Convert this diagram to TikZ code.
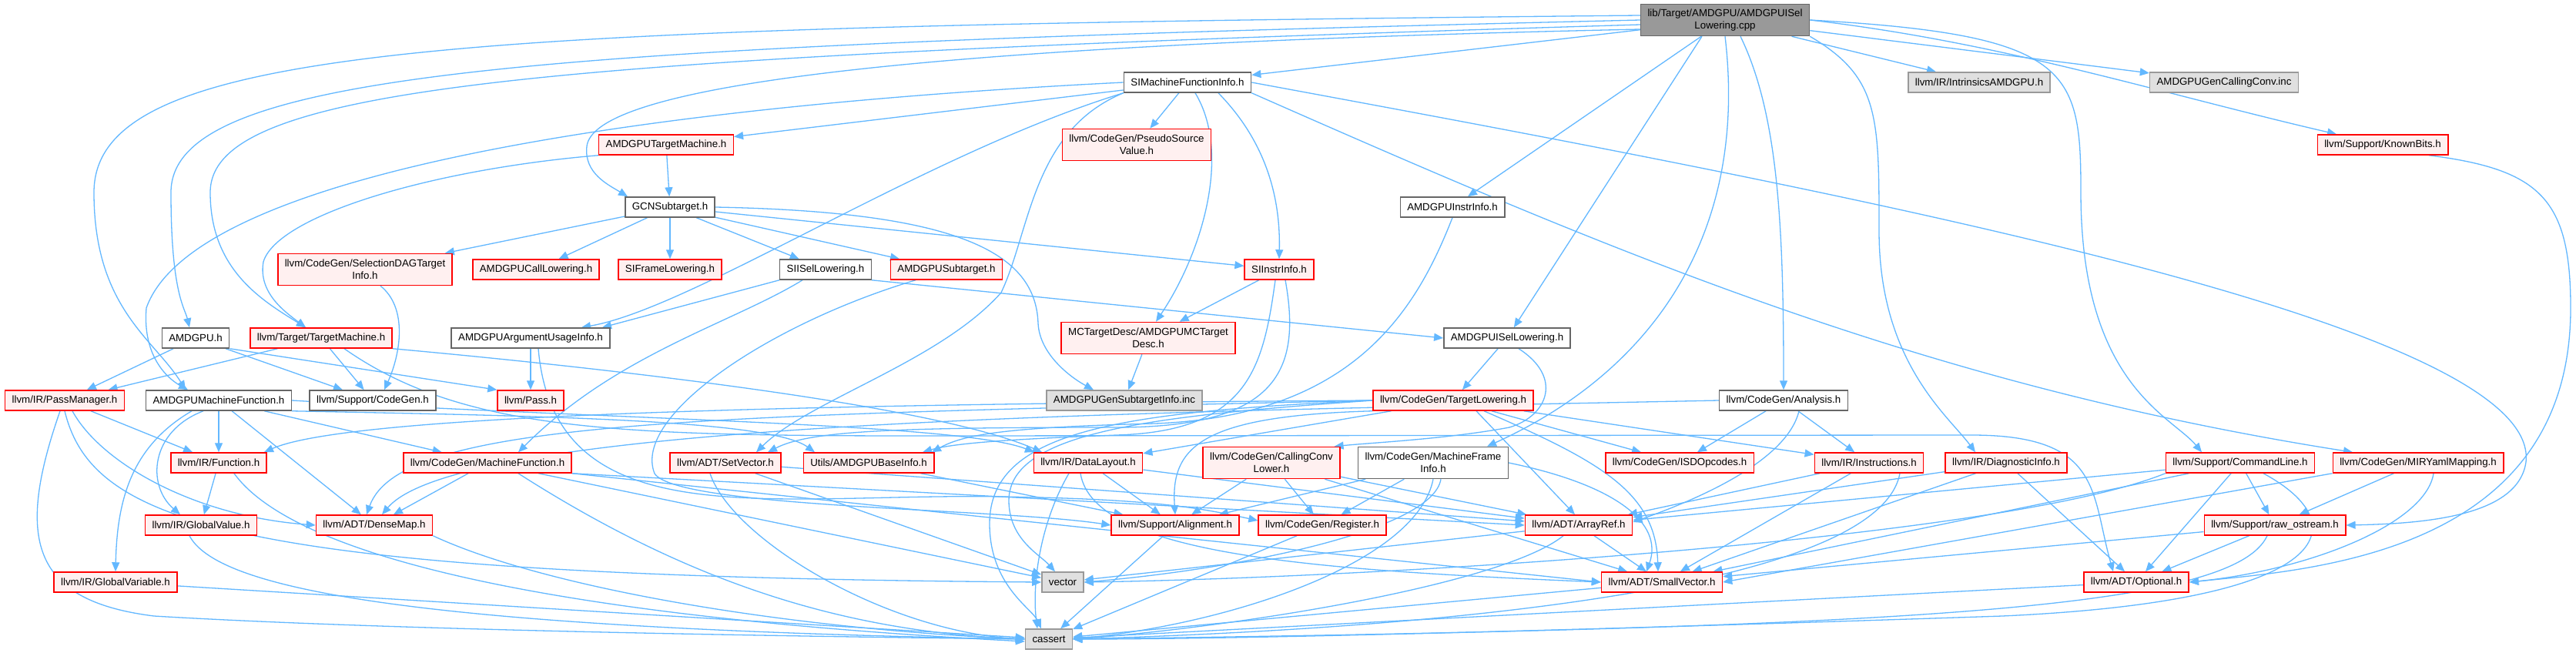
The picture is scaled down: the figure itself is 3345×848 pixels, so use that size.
\documentclass[tikz,border=0pt]{standalone}
\usepackage{fontspec}
\setmainfont{Liberation Sans}
\usetikzlibrary{arrows.meta}
\definecolor{edgeblue}{HTML}{63B8FF}
\definecolor{truncred}{HTML}{FF0000}
\definecolor{truncfill}{HTML}{FFF0F0}
\definecolor{extfill}{HTML}{E0E0E0}
\definecolor{extline}{HTML}{999999}
\definecolor{rootfill}{HTML}{999999}
\definecolor{nodeline}{HTML}{666666}
\pgfdeclarelayer{edges}
\pgfsetlayers{edges,main}

\begin{document}
\begin{tikzpicture}[x=1pt, y=-1pt,
  every node/.style={font=\fontsize{13.3}{16}\selectfont, inner xsep=9pt, inner ysep=2pt, minimum height=26pt, line width=1.5pt},
  incfile/.style={draw=nodeline, fill=white},
  trunc/.style={draw=truncred, fill=truncfill},
  sysfile/.style={draw=extline, fill=extfill},
  srcfile/.style={draw=nodeline, fill=rootfill},
  twoline/.style={align=center, minimum height=41pt},
  dep/.style={draw=edgeblue, line width=1.3pt, -{Triangle[length=12pt,width=10pt]}}]
  \useasboundingbox (0,0) rectangle (3345,848);

  \node[srcfile, twoline] (root) at (2240,26) {lib/Target/AMDGPU/AMDGPUISel\\Lowering.cpp};
  \node[incfile] (simfi) at (1542,107) {SIMachineFunctionInfo.h};
  \node[sysfile] (intr) at (2570,107) {llvm/IR/IntrinsicsAMDGPU.h};
  \node[sysfile] (gencc) at (2888,107) {AMDGPUGenCallingConv.inc};
  \node[trunc] (atm) at (865,188) {AMDGPUTargetMachine.h};
  \node[trunc, twoline] (psv) at (1476,188) {llvm/CodeGen/PseudoSource\\Value.h};
  \node[trunc] (kbits) at (3094,188) {llvm/Support/KnownBits.h};
  \node[incfile] (gcn) at (870,269) {GCNSubtarget.h};
  \node[incfile] (ainstr) at (1886,269) {AMDGPUInstrInfo.h};
  \node[trunc, twoline] (sdag) at (474,350) {llvm/CodeGen/SelectionDAGTarget\\Info.h};
  \node[trunc] (acall) at (696,350) {AMDGPUCallLowering.h};
  \node[trunc] (sifl) at (870,350) {SIFrameLowering.h};
  \node[incfile] (siisel) at (1072,350) {SIISelLowering.h};
  \node[trunc] (asub) at (1229,350) {AMDGPUSubtarget.h};
  \node[trunc] (siinstr) at (1661,350) {SIInstrInfo.h};
  \node[incfile] (amdgpu) at (254,439) {AMDGPU.h};
  \node[trunc] (tm) at (417,439) {llvm/Target/TargetMachine.h};
  \node[incfile] (argui) at (689,439) {AMDGPUArgumentUsageInfo.h};
  \node[trunc, twoline] (mctd) at (1491,439) {MCTargetDesc/AMDGPUMCTarget\\Desc.h};
  \node[incfile] (aisel) at (1957,439) {AMDGPUISelLowering.h};
  \node[trunc] (pm) at (84,520) {llvm/IR/PassManager.h};
  \node[incfile] (amf) at (284,520) {AMDGPUMachineFunction.h};
  \node[incfile] (cgen) at (484,520) {llvm/Support/CodeGen.h};
  \node[trunc] (pass) at (689,520) {llvm/Pass.h};
  \node[sysfile] (gensti) at (1460,520) {AMDGPUGenSubtargetInfo.inc};
  \node[trunc] (tl) at (1887,520) {llvm/CodeGen/TargetLowering.h};
  \node[incfile] (ana) at (2316,520) {llvm/CodeGen/Analysis.h};
  \node[trunc] (func) at (284,601) {llvm/IR/Function.h};
  \node[trunc] (mf) at (633,601) {llvm/CodeGen/MachineFunction.h};
  \node[trunc] (setv) at (942,601) {llvm/ADT/SetVector.h};
  \node[trunc] (abase) at (1128,601) {Utils/AMDGPUBaseInfo.h};
  \node[trunc] (dl) at (1413,601) {llvm/IR/DataLayout.h};
  \node[trunc, twoline] (ccl) at (1651,601) {llvm/CodeGen/CallingConv\\Lower.h};
  \node[incfile, twoline] (mfi) at (1861,601) {llvm/CodeGen/MachineFrame\\Info.h};
  \node[trunc] (isd) at (2181,601) {llvm/CodeGen/ISDOpcodes.h};
  \node[trunc] (inst) at (2427,601) {llvm/IR/Instructions.h};
  \node[trunc] (diag) at (2605,601) {llvm/IR/DiagnosticInfo.h};
  \node[trunc] (cl) at (2909,601) {llvm/Support/CommandLine.h};
  \node[trunc] (mir) at (3140,601) {llvm/CodeGen/MIRYamlMapping.h};
  \node[trunc] (gval) at (261,682) {llvm/IR/GlobalValue.h};
  \node[trunc] (dmap) at (486,682) {llvm/ADT/DenseMap.h};
  \node[trunc] (align) at (1526,682) {llvm/Support/Alignment.h};
  \node[trunc] (reg) at (1717,682) {llvm/CodeGen/Register.h};
  \node[trunc] (aref) at (2050,682) {llvm/ADT/ArrayRef.h};
  \node[trunc] (raw) at (2954,682) {llvm/Support/raw\_ostream.h};
  \node[trunc] (gvar) at (150,756) {llvm/IR/GlobalVariable.h};
  \node[sysfile] (vec) at (1380,756) {vector};
  \node[trunc] (svec) at (2158,756) {llvm/ADT/SmallVector.h};
  \node[trunc] (opt) at (2774,756) {llvm/ADT/Optional.h};
  \node[sysfile] (cas) at (1362,830) {cassert};

  \begin{pgfonlayer}{edges}
  \fill[white] (0,0) rectangle (3345,848);
  \draw[dep] (root) -- (simfi);
  \draw[dep] (root) -- (ainstr);
  \draw[dep] (root) -- (intr);
  \draw[dep] (root) -- (gencc);
  \draw[dep] (root.east) .. controls (2600,55) and (2800,120) .. ([xshift=-60pt]kbits.north);
  \draw[dep] (root.east) .. controls (2690,45) and (2702,90) .. (2702,250) .. controls (2702,500) and (2820,540) .. ([xshift=-50pt]cl.north);
  \draw[dep] (root.south east) .. controls (2440,100) and (2440,150) .. (2440,300) .. controls (2440,470) and (2530,540) .. ([xshift=-40pt]diag.north);
  \draw[dep] ([xshift=20pt]root.south) .. controls (2310,150) and (2316,300) .. (ana.north);
  \draw[dep] (root.south) .. controls (2270,300) and (2150,480) .. ([xshift=70pt]mfi.north);
  \draw[dep] ([xshift=-30pt]root.south) -- (aisel);
  \draw[dep] ([yshift=-12pt]root.west) .. controls (1100,60) and (770,120) .. (762,190) .. controls (758,225) and (790,240) .. ([xshift=-55pt]gcn.north);
  \draw[dep] ([yshift=-6pt]root.west) .. controls (700,75) and (273,110) .. (273,250) .. controls (273,350) and (340,390) .. ([xshift=-20pt]tm.north);
  \draw[dep] (root.west) .. controls (700,60) and (222,90) .. (222,250) .. controls (222,380) and (240,400) .. ([xshift=-8pt]amdgpu.north);
  \draw[dep] ([yshift=6pt]root.west) .. controls (600,35) and (122,55) .. (122,250) .. controls (122,400) and (200,440) .. ([xshift=-43pt]amf.north);

  \draw[dep] (simfi) -- (atm);
  \draw[dep] (simfi) -- (psv);
  \draw[dep] ([xshift=40pt]simfi.south) .. controls (1640,180) and (1663,250) .. (siinstr.north);
  \draw[dep] ([xshift=10pt]simfi.south) .. controls (1600,200) and (1560,330) .. ([xshift=10pt]mctd.north);
  \draw[dep] (simfi.south east) .. controls (2100,330) and (2500,500) .. ([xshift=-85pt]mir.north);
  \draw[dep] (simfi.east) .. controls (2400,250) and (3300,420) .. (3280,600) .. controls (3270,670) and (3150,680) .. (raw.east);
  \draw[dep] (simfi.south west) .. controls (1340,170) and (1338,300) .. (1300,380) .. controls (1220,470) and (1050,520) .. ([xshift=40pt]setv.north);
  \draw[dep] (simfi.south west) .. controls (1200,200) and (900,400) .. ([xshift=66pt]argui.north);
  \draw[dep] (simfi.west) .. controls (800,140) and (250,230) .. (190,400) .. controls (185,460) and (215,490) .. ([xshift=-40pt]amf.north);

  \draw[dep] (atm) -- (gcn);
  \draw[dep] (atm.south west) .. controls (560,220) and (360,280) .. (342,340) .. controls (335,380) and (370,405) .. ([xshift=-20pt]tm.north);

  \draw[dep] (gcn) -- (sdag);
  \draw[dep] (gcn) -- (acall);
  \draw[dep] (gcn) -- (sifl);
  \draw[dep] (gcn) -- (siisel);
  \draw[dep] (gcn) -- (asub);
  \draw[dep] (gcn) -- (siinstr);
  \draw[dep] (gcn.east) .. controls (1250,275) and (1345,330) .. (1348,420) .. controls (1350,460) and (1390,490) .. ([xshift=-40pt]gensti.north);
  \draw[dep] ([xshift=20pt]sdag.south) .. controls (530,400) and (520,460) .. ([xshift=15pt]cgen.north);

  \draw[dep] (siisel.south east) -- (aisel.west);
  \draw[dep] (siisel.south west) -- ([xshift=93pt]argui.north);
  \draw[dep] ([xshift=-30pt]siisel.south) .. controls (950,420) and (800,460) .. ([xshift=40pt]mf.north);
  \draw[dep] ([xshift=-40pt]asub.south) .. controls (1000,420) and (820,540) .. (850,615) .. controls (880,660) and (1300,660) .. (align.west);

  \draw[dep] (siinstr) -- (mctd);
  \draw[dep] ([xshift=-5pt]siinstr.south) .. controls (1640,480) and (1620,560) .. (1450,565) .. controls (1320,570) and (1240,575) .. ([xshift=70pt]abase.north);
  \draw[dep] ([xshift=8pt]siinstr.south) .. controls (1690,480) and (1660,555) .. (1450,555) .. controls (1150,555) and (1050,560) .. ([xshift=55pt]setv.north);
  \draw[dep] (ainstr.south) .. controls (1840,400) and (1760,540) .. (1500,550) .. controls (1300,555) and (1250,565) .. ([xshift=82pt]abase.north);
  \draw[dep] (mctd) -- (gensti);
  \draw[dep] ([xshift=60pt]kbits.south) .. controls (3300,220) and (3338,260) .. (3338,400) .. controls (3338,720) and (3000,740) .. (opt.east);

  \draw[dep] (amdgpu) -- (pm);
  \draw[dep] (amdgpu) -- (cgen);
  \draw[dep] (amdgpu.south east) -- (pass.north west);
  \draw[dep] (tm) -- (pm);
  \draw[dep] (tm) -- (cgen);
  \draw[dep] (tm.south east) .. controls (700,470) and (1200,520) .. ([xshift=-60pt]dl.north);
  \draw[dep] ([xshift=30pt]tm.south) .. controls (600,560) and (800,566) .. (1200,566) -- (2560,565) .. controls (2730,565) and (2715,640) .. ([xshift=-30pt]opt.north);
  \draw[dep] (argui) -- (pass);
  \draw[dep] ([xshift=10pt]argui.south) .. controls (720,700) and (1000,640) .. (1300,645) .. controls (1500,648) and (1560,660) .. ([yshift=6pt]reg.west);

  \draw[dep] (amf) -- (func);
  \draw[dep] (amf) -- (dmap);
  \draw[dep] (amf) -- (mf);
  \draw[dep] ([xshift=-20pt]amf.south) .. controls (195,560) and (190,630) .. ([xshift=-27pt]gval.north);
  \draw[dep] ([xshift=-35pt]amf.south) .. controls (170,580) and (152,650) .. (gvar.north);
  \draw[dep] (amf.south east) .. controls (700,540) and (1000,545) .. ([xshift=-70pt]abase.north);
  \draw[dep] (amf.east) .. controls (800,545) and (1250,550) .. ([xshift=-70pt]dl.north);

  \draw[dep] (aisel) -- (tl);
  \draw[dep] ([xshift=15pt]aisel.south) .. controls (2030,490) and (2010,540) .. (1960,555) .. controls (1880,570) and (1780,575) .. ([xshift=-8pt]ccl.north east);

  \draw[dep] (pm) -- (func);
  \draw[dep] ([xshift=10pt]pm.south) .. controls (130,600) and (250,670) .. (dmap.west);
  \draw[dep] (pm.south) .. controls (120,680) and (300,748) .. (vec.west);
  \draw[dep] ([xshift=-6pt]pm.south) .. controls (20,700) and (40,780) .. (200,800) .. controls (500,818) and (1000,826) .. (cas.west);

  \draw[dep] (tl.west) .. controls (1000,525) and (450,540) .. ([xshift=-4pt]func.north east);
  \draw[dep] (tl.west) .. controls (900,540) and (520,545) .. ([xshift=-10pt]dmap.north);
  \draw[dep] (tl) -- (dl);
  \draw[dep] ([xshift=30pt]tl.south) -- ([xshift=-5pt]aref.north);
  \draw[dep] ([xshift=40pt]tl.south) .. controls (2080,600) and (2150,640) .. ([xshift=-5pt]svec.north);
  \draw[dep] (tl) -- (isd);
  \draw[dep] (tl) -- (inst);
  \draw[dep] (tl.south west) .. controls (1560,540) and (1520,580) .. (align.north);
  \draw[dep] (tl.west) .. controls (1500,540) and (1310,560) .. (1310,650) .. controls (1310,700) and (1350,720) .. ([xshift=-10pt]vec.north);
  \draw[dep] (tl.west) .. controls (1450,535) and (1285,560) .. (1285,680) .. controls (1285,760) and (1340,790) .. ([xshift=-10pt]cas.north);

  \draw[dep] (ana.west) .. controls (1500,535) and (600,545) .. ([xshift=10pt]dmap.north);
  \draw[dep] (ana) -- (isd);
  \draw[dep] (ana) -- (inst);
  \draw[dep] ([xshift=20pt]ana.south) .. controls (2320,600) and (2200,650) .. ([yshift=4pt]aref.east);

  \draw[dep] (func) -- (gval);
  \draw[dep] ([xshift=20pt]func.south) .. controls (380,720) and (700,800) .. ([yshift=-3pt]cas.west);
  \draw[dep] (mf) -- (dmap);
  \draw[dep] (mf.south east) -- (aref.west);
  \draw[dep] (mf.south east) -- (svec.west);
  \draw[dep] (mf) -- (vec);
  \draw[dep] ([xshift=40pt]mf.south) .. controls (900,760) and (1100,820) .. (cas.west);
  \draw[dep] (setv) -- (aref);
  \draw[dep] (setv) -- (vec);
  \draw[dep] ([xshift=-20pt]setv.south) .. controls (950,700) and (1150,820) .. (cas.west);
  \draw[dep] (abase) -- (align);
  \draw[dep] (dl) -- (aref);
  \draw[dep] ([xshift=-10pt]dl.south) .. controls (1420,720) and (1700,740) .. (svec.west);
  \draw[dep] (dl) -- (align);
  \draw[dep] ([xshift=-25pt]dl.south) .. controls (1350,680) and (1340,760) .. ([xshift=-15pt]cas.north);
  \draw[dep] (ccl) -- (aref);
  \draw[dep] (ccl) -- (svec);
  \draw[dep] (ccl) -- (reg);
  \draw[dep] (ccl) -- (align);
  \draw[dep] (mfi.east) .. controls (2100,630) and (2160,680) .. ([xshift=-20pt]svec.north);
  \draw[dep] (mfi) -- (reg);
  \draw[dep] (mfi) -- (align);
  \draw[dep] ([xshift=10pt]mfi.south) .. controls (1860,690) and (1600,740) .. (vec.east);
  \draw[dep] (mfi.south) .. controls (1840,730) and (1600,810) .. (cas.east);
  \draw[dep] (inst) -- (aref);
  \draw[dep] (inst) -- (svec);
  \draw[dep] ([xshift=40pt]inst.south) .. controls (2440,760) and (1900,815) .. (cas.east);
  \draw[dep] (diag) -- (aref);
  \draw[dep] (diag) -- (svec);
  \draw[dep] (diag) -- (opt);
  \draw[dep] (cl) -- (aref);
  \draw[dep] (cl) -- (svec);
  \draw[dep] (cl.south west) .. controls (2600,700) and (1800,750) .. (vec.east);
  \draw[dep] (cl) -- (opt);
  \draw[dep] (cl) -- (raw);
  \draw[dep] ([xshift=30pt]cl.south) .. controls (3060,680) and (3040,780) .. (2600,800) .. controls (2000,820) and (1600,830) .. (cas.east);
  \draw[dep] (mir.south west) -- (svec.east);
  \draw[dep] (mir) -- (raw);
  \draw[dep] ([xshift=20pt]mir.south) .. controls (3150,680) and (3000,740) .. (opt.east);
  \draw[dep] ([xshift=-15pt]gval.south) .. controls (280,760) and (500,815) .. (cas.west);
  \draw[dep] (dmap.south east) .. controls (700,760) and (1000,815) .. (cas.west);
  \draw[dep] (gvar) -- (cas);
  \draw[dep] (align) -- (cas);
  \draw[dep] (reg) -- (cas);
  \draw[dep] (aref) -- (svec);
  \draw[dep] (aref) -- (vec);
  \draw[dep] ([xshift=-20pt]aref.south) .. controls (1950,760) and (1600,815) .. (cas.east);
  \draw[dep] (raw) -- (svec);
  \draw[dep] (raw) -- (opt);
  \draw[dep] ([xshift=-10pt]raw.south) .. controls (2900,790) and (2500,815) .. (cas.east);
  \draw[dep] (svec) -- (cas);
  \draw[dep] (opt) -- (cas);
  \end{pgfonlayer}
\end{tikzpicture}
\end{document}
